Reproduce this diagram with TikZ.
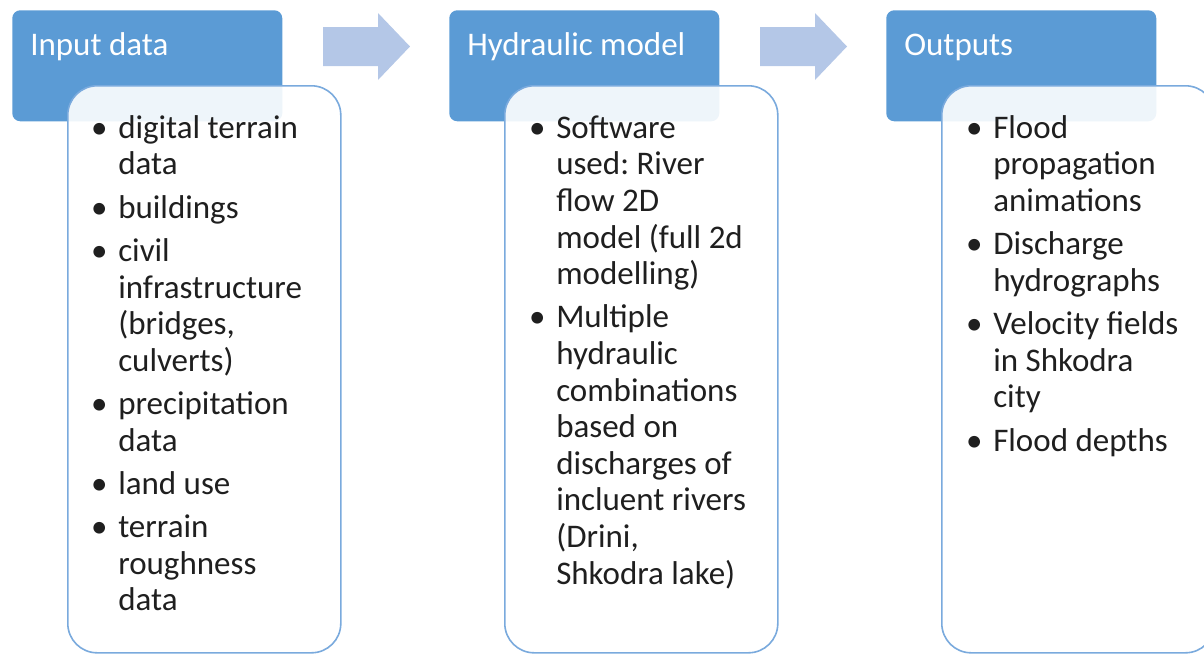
\documentclass[tikz,border=0pt]{standalone}
\usepackage{fontspec}
\setmainfont{Carlito}
\usetikzlibrary{positioning}
\frenchspacing

\definecolor{hdrblue}{HTML}{5B9BD5}
\definecolor{arrowblue}{HTML}{B4C7E7}
\definecolor{boxline}{HTML}{7AAADD}

\newcommand{\bul}{\llap{\textbullet\hspace{8pt}}}
\newcommand{\flowarrow}[1]{%
  \fill[arrowblue] (#1+323,27) -- (#1+378,27) -- (#1+378,13) -- (#1+410,46.5)
    -- (#1+378,80) -- (#1+378,66) -- (#1+323,66) -- cycle;}

\tikzset{
  header/.style={fill=hdrblue, rounded corners=6pt, minimum width=202.5pt,
    minimum height=83.25pt, inner sep=0pt, anchor=north west},
  itembox/.style={draw=boxline, line width=1.2pt, fill=white, fill opacity=0.9,
    rounded corners=22pt, minimum width=204.75pt, minimum height=425.25pt,
    inner sep=0pt, anchor=north west},
  hdrtext/.style={text=white, font=\fontsize{24.75pt}{27.45pt}\selectfont,
    inner sep=0pt, anchor=base west},
  listtext/.style={text=black!88, font=\fontsize{24.75pt}{27.45pt}\selectfont,
    align=left, inner sep=0pt, anchor=north west}
}

\begin{document}
\begin{tikzpicture}[x=0.75pt, y=-0.75pt]
  \useasboundingbox (0,0) rectangle (1204,654);

  \foreach \x/\name/\title in {0/in/Input data, 437/hm/Hydraulic model, 874/out/Outputs} {
    \node[header] (\name hdr) at (\x+12,10) {};
    \node[hdrtext] (\name title) at (\x+30,55) {\title};
    \node[itembox] (\name box) at (\x+67,85) {};
  }
  \flowarrow{0}
  \flowarrow{437}

  \node[listtext] (inlist) at (118,112.4) {%
    \strut\bul digital terrain\\ data\\[5pt]
    \bul buildings\\[5pt]
    \bul civil\\ infrastructure\\ (bridges,\\ culverts)\\[5pt]
    \bul precipitation\\ data\\[5pt]
    \bul land use\\[5pt]
    \bul terrain\\ roughness\\ data};

  \node[listtext] (hmlist) at (556,112.4) {%
    \strut\bul Software\\ used: River\\ flow 2D\\ model (full 2d\\ modelling)\\[5pt]
    \bul Multiple\\ hydraulic\\ combinations\\ based on\\ discharges of\\ incluent rivers\\ (Drini,\\ Shkodra lake)};

  \node[listtext] (outlist) at (993,112.4) {%
    \strut\bul Flood\\ propagation\\ animations\\[5pt]
    \bul Discharge\\ hydrographs\\[5pt]
    \bul Velocity fields\\ in Shkodra\\ city\\[5pt]
    \bul Flood depths};
\end{tikzpicture}
\end{document}
